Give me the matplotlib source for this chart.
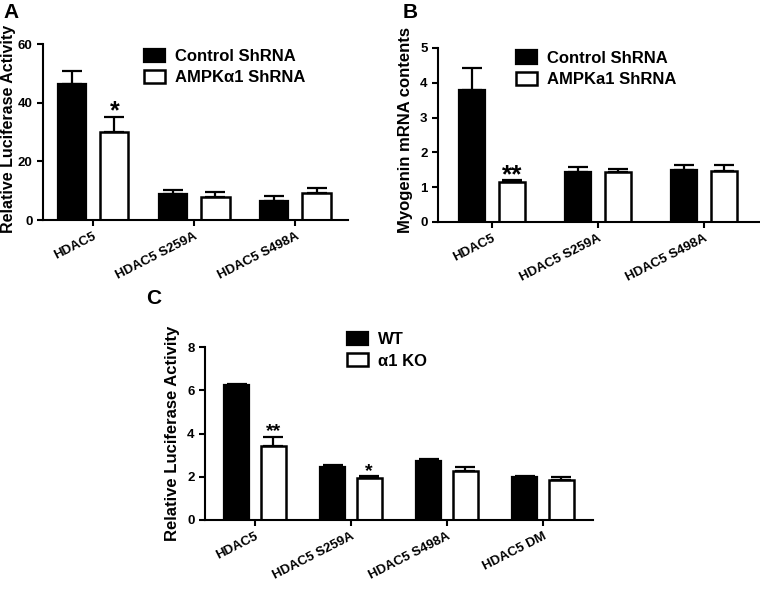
import numpy as np
import matplotlib
matplotlib.use("Agg")
import matplotlib.pyplot as plt
from matplotlib.patches import Patch

plt.rcParams['font.family'] = ['Liberation Sans', 'DejaVu Sans']
plt.rcParams['font.weight'] = 'bold'

# panel A: luciferase, shRNA
groups_a = ["HDAC5", "HDAC5 S259A", "HDAC5 S498A"]
ctrl_a = [46.3, 8.9, 6.6]
ctrl_a_err = [4.6, 1.3, 1.6]
kd_a = [30.1, 8.0, 9.3]
kd_a_err = [5.0, 1.7, 1.5]

# panel B: myogenin mRNA
groups_b = ["HDAC5", "HDAC5 S259A", "HDAC5 S498A"]
ctrl_b = [3.80, 1.45, 1.50]
ctrl_b_err = [0.63, 0.12, 0.15]
kd_b = [1.15, 1.43, 1.47]
kd_b_err = [0.07, 0.09, 0.18]

# panel C: luciferase, WT vs KO
groups_c = ["HDAC5", "HDAC5 S259A", "HDAC5 S498A", "HDAC5 DM"]
wt_c = [6.23, 2.43, 2.72, 1.97]
wt_c_err = [0.07, 0.13, 0.08, 0.08]
ko_c = [3.43, 1.94, 2.26, 1.85]
ko_c_err = [0.39, 0.09, 0.20, 0.12]

fig = plt.figure(figsize=(7.6, 5.91), dpi=100)
W, H = 760, 591


def add_ax(l, r, b, t):
    return fig.add_axes([l / W, 1 - b / H, (r - l) / W, (b - t) / H])


def draw(ax, groups, v1, e1, v2, e2, off, width, ymax, yticks, ylabel, xlim, ylsize=12):
    x = np.arange(len(groups))
    z = np.zeros(len(groups))
    ekw = dict(elinewidth=1.6, capthick=1.6, capsize=7.5, ecolor='black')
    ax.bar(x - off, v1, width, color='black', edgecolor='black', linewidth=1.6,
           yerr=[z, e1], error_kw=ekw)
    ax.bar(x + off, v2, width, color='white', edgecolor='black', linewidth=1.8,
           yerr=[z, e2], error_kw=ekw)
    ax.set_xlim(*xlim)
    ax.set_ylim(0, ymax)
    ax.set_yticks(yticks)
    ax.set_xticks(x)
    ax.set_xticklabels(groups, rotation=27, ha='right', rotation_mode='anchor',
                       fontsize=10, fontweight='bold')
    for s in ['top', 'right']:
        ax.spines[s].set_visible(False)
    for s in ['left', 'bottom']:
        ax.spines[s].set_linewidth(1.5)
    ax.tick_params(width=1.5, length=4, labelsize=9.5)
    for lab in ax.get_yticklabels():
        lab.set_fontweight('bold')
    ax.set_ylabel(ylabel, fontsize=ylsize, fontweight='bold')
    hs = [Patch(facecolor='black', edgecolor='black', linewidth=1.6),
          Patch(facecolor='white', edgecolor='black', linewidth=1.8)]
    return hs


def add_legend(ax, hs, labels, anchor):
    ax.legend(hs, labels, loc='upper left', bbox_to_anchor=anchor, frameon=False,
              prop={'weight': 'bold', 'size': 12}, handlelength=1.25,
              handleheight=0.85, handletextpad=0.6, labelspacing=0.35, borderpad=0.2)


# A
axA = add_ax(43, 348, 220, 44)
hs = draw(axA, groups_a, ctrl_a, ctrl_a_err, kd_a, kd_a_err, 0.21, 0.28, 60,
          [0, 20, 40, 60], "Relative Luciferase Activity", (-0.495, 2.52), ylsize=11.5)
axA.yaxis.set_label_coords(-0.09, 0.52)
add_legend(axA, hs, ["Control ShRNA", "AMPK\u03b11 ShRNA"], (0.294, 1.04))
axA.text(0 + 0.21, 37.0, "*", ha='center', va='center', fontsize=18, fontweight='bold')

# B
axB = add_ax(438, 759, 222, 48)
hs = draw(axB, groups_b, ctrl_b, ctrl_b_err, kd_b, kd_b_err, 0.19, 0.25, 5,
          [0, 1, 2, 3, 4, 5], "Myogenin mRNA contents", (-0.51, 2.52))
axB.yaxis.set_label_coords(-0.078, 0.53)
add_legend(axB, hs, ["Control ShRNA", "AMPKa1 ShRNA"], (0.208, 1.053))
axB.text(0 + 0.19, 1.33, "**", ha='center', va='center', fontsize=19, fontweight='bold')

# C
axC = add_ax(205, 593, 520, 347)
hs = draw(axC, groups_c, wt_c, wt_c_err, ko_c, ko_c_err, 0.19, 0.26, 8,
          [0, 2, 4, 6, 8], "Relative Luciferase Activity", (-0.52, 3.52))
axC.yaxis.set_label_coords(-0.064, 0.5)
add_legend(axC, hs, ["WT", "\u03b11 KO"], (0.337, 1.155))
axC.text(0 + 0.19, 4.1, "**", ha='center', va='center', fontsize=14)
axC.text(1 + 0.19, 2.25, "*", ha='center', va='center', fontsize=14)

fig.text(3 / W, 1 - 12 / H, "A", fontsize=15, fontweight='bold', va='center')
fig.text(403 / W, 1 - 12 / H, "B", fontsize=15, fontweight='bold', va='center')
fig.text(146 / W, 1 - 298 / H, "C", fontsize=15, fontweight='bold', va='center')

fig.savefig("out.png", dpi=100)
